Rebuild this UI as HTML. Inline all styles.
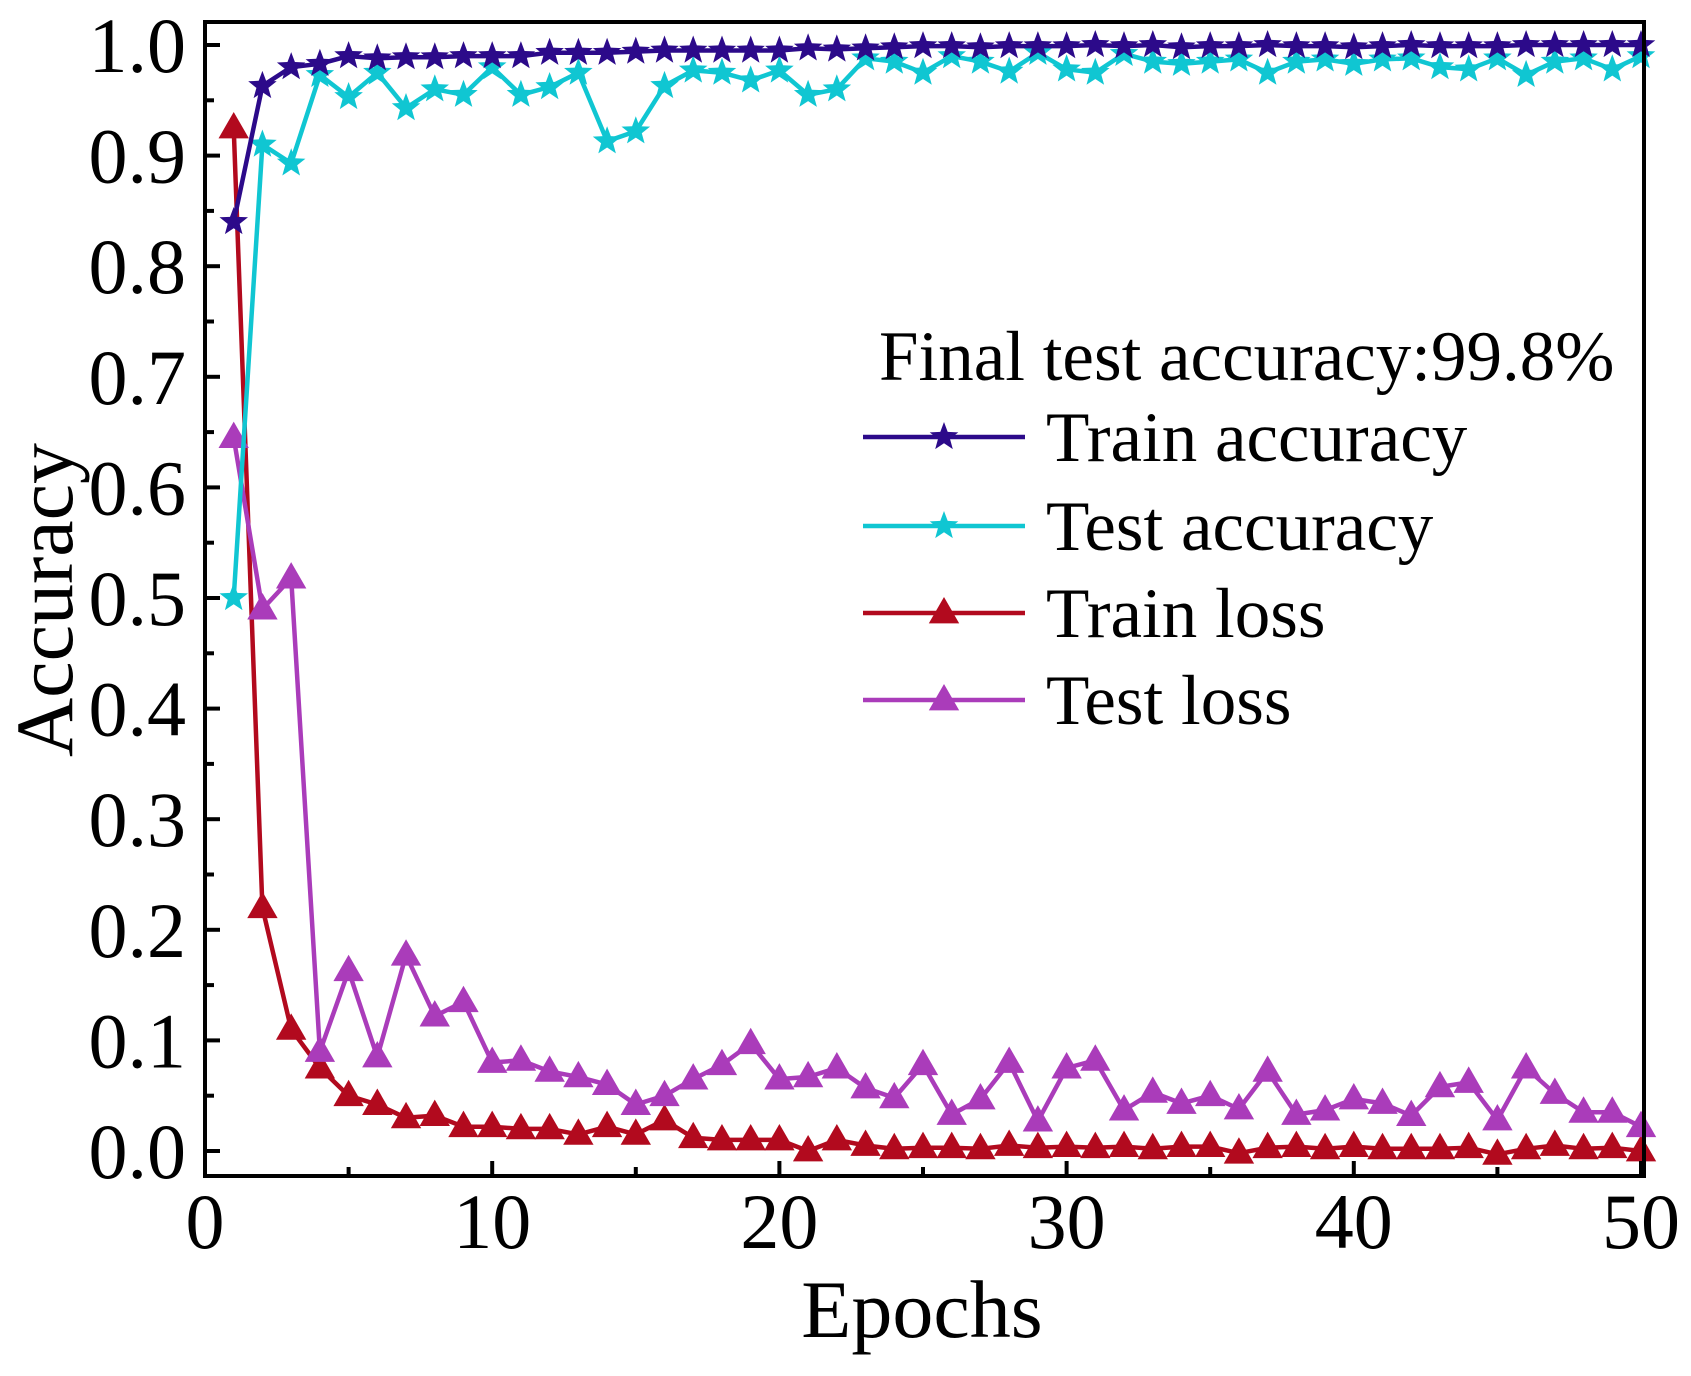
<!DOCTYPE html>
<html><head><meta charset="utf-8"><style>
html,body{margin:0;padding:0;background:#fff;}
svg text{font-family:"Liberation Serif",serif;fill:#000;}
</style></head><body>
<svg id="chart" width="1691" height="1371" viewBox="0 0 1691 1371" xmlns="http://www.w3.org/2000/svg">
<g id="marks"></g>
<g id="axes"></g>
<g id="legend"></g>
</svg>
<script>
const epochs = Array.from({length:50},(_,i)=>i+1);
const trainAcc = [0.84,0.963,0.98,0.983,0.99,0.988,0.989,0.989,0.99,0.99,0.99,0.993,0.993,0.993,0.994,0.995,0.995,0.995,0.995,0.995,0.997,0.996,0.997,0.998,0.999,0.999,0.998,0.999,0.999,0.999,1.0,0.999,1.0,0.998,0.999,0.999,1.0,0.999,0.999,0.998,0.999,1.0,0.999,0.999,0.999,1.0,1.0,1.0,1.0,1.0];
const testAcc = [0.50,0.91,0.893,0.973,0.953,0.975,0.943,0.96,0.955,0.98,0.955,0.962,0.975,0.913,0.922,0.963,0.977,0.975,0.968,0.977,0.955,0.96,0.988,0.985,0.975,0.99,0.985,0.976,0.993,0.978,0.975,0.992,0.985,0.983,0.985,0.987,0.975,0.985,0.987,0.983,0.987,0.988,0.98,0.978,0.988,0.973,0.985,0.988,0.978,0.99];
const trainLoss = [0.925,0.22,0.11,0.075,0.05,0.042,0.03,0.032,0.022,0.022,0.02,0.02,0.015,0.022,0.015,0.028,0.012,0.01,0.01,0.01,0.0,0.01,0.005,0.002,0.003,0.003,0.002,0.005,0.003,0.004,0.003,0.004,0.002,0.004,0.004,-0.002,0.003,0.004,0.002,0.004,0.002,0.002,0.002,0.003,-0.003,0.002,0.005,0.002,0.003,0.0];
const testLoss = [0.645,0.49,0.518,0.09,0.163,0.085,0.177,0.122,0.135,0.08,0.082,0.072,0.067,0.06,0.042,0.05,0.065,0.078,0.097,0.065,0.067,0.075,0.057,0.048,0.078,0.033,0.047,0.08,0.027,0.075,0.082,0.037,0.053,0.043,0.05,0.038,0.072,0.033,0.037,0.047,0.043,0.032,0.058,0.062,0.028,0.075,0.052,0.035,0.035,0.022];
const xTicks = [0,10,20,30,40,50];
const yTicks = ["0.0","0.1","0.2","0.3","0.4","0.5","0.6","0.7","0.8","0.9","1.0"];

const NS="http://www.w3.org/2000/svg";
const L=205,R=1644,T=22,B=1176;
const X=v=>L+(v/50)*(1641-205);
const Y=v=>1151-v*(1151-45)/1.0;
function mk(tag,attrs,parent){const e=document.createElementNS(NS,tag);for(const k in attrs)e.setAttribute(k,attrs[k]);parent.appendChild(e);return e;}
function starPts(cx,cy,r){let p=[];for(let i=0;i<10;i++){const a=-Math.PI/2+i*Math.PI/5;const rr=i%2?r*0.42:r;p.push((cx+rr*Math.cos(a)).toFixed(1)+","+(cy+rr*Math.sin(a)).toFixed(1));}return p.join(" ");}
function triPts(cx,cy,r){return `${cx},${cy-r} ${cx-r*0.95},${cy+r*0.65} ${cx+r*0.95},${cy+r*0.65}`;}
const marks=document.getElementById('marks');
const series=[
 {name:'train-loss',data:trainLoss,color:'#b20a1e',m:'tri'},
 {name:'test-loss',data:testLoss,color:'#aa3cba',m:'tri'},
 {name:'test-accuracy',data:testAcc,color:'#10c6d2',m:'star'},
 {name:'train-accuracy',data:trainAcc,color:'#2c0a8a',m:'star'}
];
series.forEach(s=>{
  const g=mk('g',{},marks);
  
  
  const pts=s.data.map((v,i)=>X(epochs[i]).toFixed(1)+","+Y(v).toFixed(1)).join(" ");
  const pl=mk('polyline',{points:pts,fill:'none',stroke:s.color,'stroke-width':4.5,'stroke-linejoin':'round'},g);
  
  
  s.data.forEach((v,i)=>{
    const cx=X(epochs[i]),cy=Y(v);
    const p=mk('polygon',{points:s.m==='star'?starPts(cx,cy,15):triPts(cx,cy,16),fill:s.color},g);
    
    
  });
});
const axes=document.getElementById('axes');
const frame=mk('rect',{x:L,y:T,width:R-L,height:B-T,fill:'none',stroke:'#000','stroke-width':4},axes);


yTicks.forEach((t,i)=>{
  const v=parseFloat(t),y=Y(v);
  const ln=mk('line',{x1:L,x2:L+15,y1:y,y2:y,stroke:'#000','stroke-width':4},axes);
  
  
  if(i<yTicks.length-1){const m=Y(v+0.05);const mn=mk('line',{x1:L,x2:L+9,y1:m,y2:m,stroke:'#000','stroke-width':4},axes);}
  const tx=mk('text',{x:186,y:y+27,'font-size':78,'text-anchor':'end'},axes);
  tx.textContent=t;
  
  
});
xTicks.forEach((t,i)=>{
  const x=X(t);
  const ln=mk('line',{x1:x,x2:x,y1:B,y2:B-15,stroke:'#000','stroke-width':4},axes);
  
  
  if(i<xTicks.length-1){const m=X(t+5);const mn=mk('line',{x1:m,x2:m,y1:B,y2:B-9,stroke:'#000','stroke-width':4},axes);}
  const tx=mk('text',{x:x,y:1248,'font-size':78,'text-anchor':'middle'},axes);
  tx.textContent=t;
  
  
});
const xt=mk('text',{x:922,y:1337,'font-size':82,'text-anchor':'middle'},axes);
xt.textContent='Epochs';


const yt=mk('text',{x:0,y:0,'font-size':82,'text-anchor':'middle',transform:'translate(72,600) rotate(-90)'},axes);
yt.textContent='Accuracy';



const leg=document.getElementById('legend');
const lt=mk('text',{x:879,y:380,'font-size':71},leg);
lt.textContent='Final test accuracy:99.8%';


const legRows=[['Train accuracy','#2c0a8a','star',461],['Test accuracy','#10c6d2','star',550],['Train loss','#b20a1e','tri',637],['Test loss','#aa3cba','tri',724]];
legRows.forEach(r=>{
  const g=mk('g',{},leg);
  
  
  const cy=r[3]-24;
  mk('line',{x1:863,x2:1025,y1:cy,y2:cy,stroke:r[1],'stroke-width':4.5},g);
  mk('polygon',{points:r[2]==='star'?starPts(944,cy,15):triPts(944,cy,16),fill:r[1]},g);
  const t=mk('text',{x:1046,y:r[3],'font-size':71},g);
  t.textContent=r[0];
});
</script>
</body></html>
